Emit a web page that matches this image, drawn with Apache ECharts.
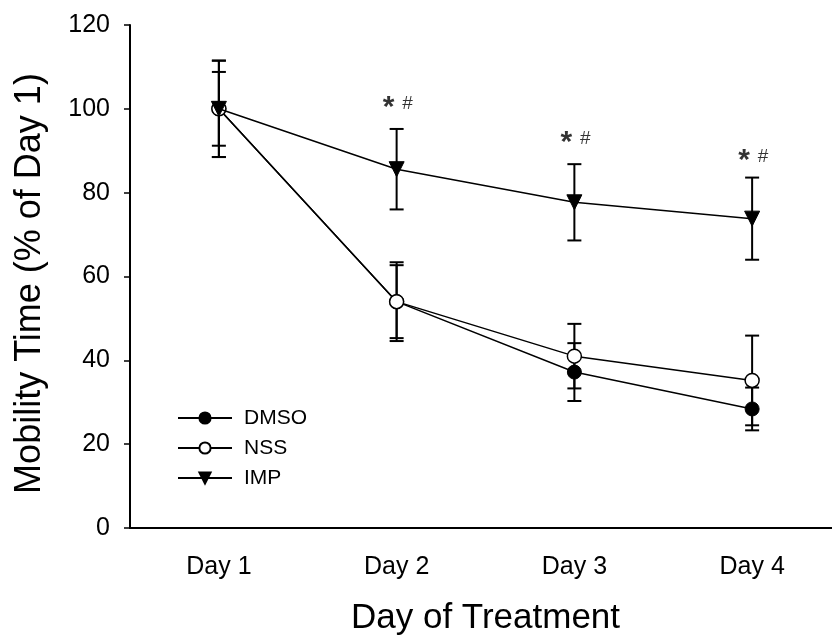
<!DOCTYPE html>
<html>
<head>
<meta charset="utf-8">
<script src="https://cdn.jsdelivr.net/npm/echarts@6/dist/echarts.min.js"></script>
<style>
  html, body { margin: 0; padding: 0; background: #fff; }
  #chart { width: 832px; height: 637px; }
</style>
</head>
<body>
<div id="chart"></div>
<script>
var days = ['Day 1', 'Day 2', 'Day 3', 'Day 4'];
var dmsoMean = [100, 54, 37.2, 28.4];
var dmsoErr = [11.5, 8.7, 6.9, 5.1];
var nssMean = [100, 54, 41, 35.2];
var nssErr = [8.8, 9.4, 7.7, 10.7];
var impMean = [100, 85.6, 77.7, 73.8];
var impErr = [11.5, 9.6, 9.1, 9.8];
var sigDays = ['Day 2', 'Day 3', 'Day 4'];
var sigY = [101.3, 92.9, 88.6];
var yTicks = [0, 20, 40, 60, 80, 100, 120];

(function() {
  var ink = '#000';
  var font = 'Liberation Sans, Arial, sans-serif';

  function errData(mean, err) {
    return mean.map(function(m, i) { return [i, m - err[i], m + err[i]]; });
  }

  // error bars: vertical line + caps
  function errSeries(mean, err) {
    return {
      type: 'custom', z: 1, silent: true,
      data: errData(mean, err),
      renderItem: function(params, api) {
        var lo = api.coord([api.value(0), api.value(1)]);
        var hi = api.coord([api.value(0), api.value(2)]);
        var w = 7;
        var st = { stroke: ink, lineWidth: 2 };
        return { type: 'group', children: [
          { type: 'line', shape: { x1: hi[0], y1: hi[1], x2: lo[0], y2: lo[1] }, style: st },
          { type: 'line', shape: { x1: hi[0] - w, y1: hi[1], x2: hi[0] + w, y2: hi[1] }, style: st },
          { type: 'line', shape: { x1: lo[0] - w, y1: lo[1], x2: lo[0] + w, y2: lo[1] }, style: st }
        ]};
      }
    };
  }

  // significance marks above IMP
  function sigSeries(text, size, weight, dx, dy) {
    return {
      type: 'scatter', z: 6, silent: true,
      data: sigDays.map(function(d, i) { return [d, sigY[i]]; }),
      symbolSize: 1, itemStyle: { color: 'transparent' },
      label: {
        show: true, position: 'inside', formatter: text, offset: [dx, dy],
        color: ink, fontSize: size, fontWeight: weight
      }
    };
  }

  var chart = echarts.init(document.getElementById('chart'), null, { renderer: 'canvas' });
  chart.setOption({
    animation: false,
    backgroundColor: '#fff',
    textStyle: { fontFamily: font, color: ink },
    grid: { left: 130, top: 25, width: 711, height: 503, containLabel: false, outerBoundsMode: 'none' },
    legend: {
      orient: 'vertical', left: 172, top: 402,
      itemWidth: 54, itemHeight: 14, itemGap: 8,
      data: ['DMSO', 'NSS', 'IMP'],
      textStyle: { fontSize: 21, color: ink, lineHeight: 22, padding: [0, 0, 0, 7] }
    },
    xAxis: {
      type: 'category', data: days, boundaryGap: true,
      name: 'Day of Treatment', nameLocation: 'middle', nameGap: 73,
      nameTextStyle: { fontSize: 35, color: ink },
      axisLine: { lineStyle: { color: ink, width: 2 } },
      axisTick: { alignWithLabel: true, length: 6, lineStyle: { color: ink, width: 1.5 } },
      axisLabel: { fontSize: 25, color: ink, margin: 27 },
      splitLine: { show: false }
    },
    yAxis: {
      type: 'value', min: 0, max: 120, interval: 20,
      name: 'Mobility Time (% of Day 1)', nameLocation: 'middle', nameGap: 82,
      nameTextStyle: { fontSize: 36, color: ink, padding: [0, 14, 0, 0] },
      axisLine: { show: true, lineStyle: { color: ink, width: 2 } },
      axisTick: { show: true, length: 6, lineStyle: { color: ink, width: 1.5 } },
      axisLabel: { fontSize: 25, color: ink, margin: 20,
        formatter: function(v) { return yTicks.indexOf(v) >= 0 ? String(v) : ''; } },
      splitLine: { show: false }
    },
    series: [
      errSeries(dmsoMean, dmsoErr),
      errSeries(nssMean, nssErr),
      errSeries(impMean, impErr),
      {
        name: 'DMSO', type: 'line', z: 3, data: dmsoMean,
        symbol: 'circle', symbolSize: 14,
        lineStyle: { color: ink, width: 1.5 },
        itemStyle: { color: ink, borderColor: ink, borderWidth: 1 }
      },
      {
        name: 'NSS', type: 'line', z: 4, data: nssMean,
        symbol: 'circle', symbolSize: 14,
        lineStyle: { color: ink, width: 1.5 },
        itemStyle: { color: '#fff', borderColor: ink, borderWidth: 1.5 }
      },
      {
        name: 'IMP', type: 'line', z: 5, data: impMean,
        symbol: 'triangle', symbolSize: 15, symbolRotate: 180,
        lineStyle: { color: ink, width: 1.5 },
        itemStyle: { color: ink, borderColor: ink, borderWidth: 1 }
      },
      sigSeries('*', 30, 'bold', -8, 4),
      sigSeries('#', 19, 'normal', 11, 0)
    ]
  });
  window.addEventListener('resize', function() { chart.resize(); });
})();
</script>
</body>
</html>
